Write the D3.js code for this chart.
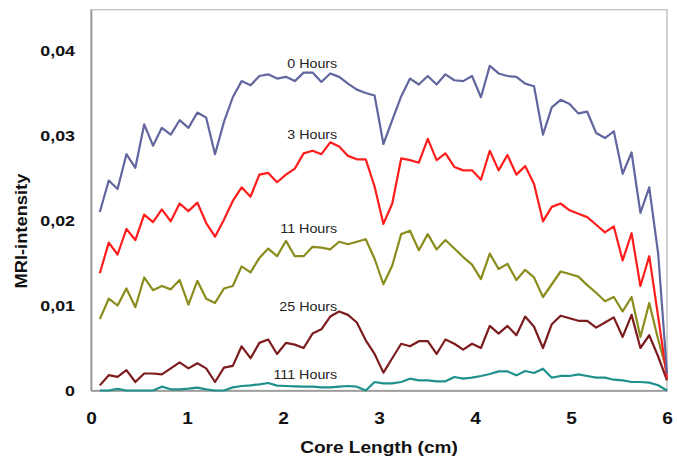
<!DOCTYPE html>
<html>
<head>
<meta charset="utf-8">
<script src="https://cdn.jsdelivr.net/npm/d3@7"></script>
<style>
  html, body { margin: 0; padding: 0; background: #ffffff; }
  svg { display: block; }
  text { font-family: "Liberation Sans", Arial, sans-serif; }
</style>
</head>
<body>
<svg id="chart" width="677" height="456"></svg>
<script>
// ---------------- data ----------------
const coreLength = [0.092,0.185,0.277,0.369,0.462,0.554,0.646,0.738,0.831,0.923,
  1.015,1.108,1.200,1.292,1.385,1.477,1.569,1.662,1.754,1.846,
  1.938,2.031,2.123,2.215,2.308,2.400,2.492,2.585,2.677,2.769,
  2.862,2.954,3.046,3.138,3.231,3.323,3.415,3.508,3.600,3.692,
  3.785,3.877,3.969,4.062,4.154,4.246,4.338,4.431,4.523,4.615,
  4.708,4.800,4.892,4.985,5.077,5.169,5.262,5.354,5.446,5.538,
  5.631,5.723,5.815,5.908,6.000];

const hours0 = [0.0210,0.0247,0.0237,0.0278,0.0262,0.0313,0.0288,0.0309,0.0301,0.0318,
  0.0309,0.0327,0.0321,0.0278,0.0316,0.0345,0.0364,0.0359,0.0370,0.0372,
  0.0367,0.0369,0.0364,0.0374,0.0374,0.0363,0.0373,0.0369,0.0361,0.0354,
  0.0350,0.0347,0.0290,0.0318,0.0346,0.0367,0.0360,0.0370,0.0360,0.0372,
  0.0365,0.0364,0.0370,0.0345,0.0382,0.0373,0.0370,0.0369,0.0361,0.0358,
  0.0301,0.0333,0.0342,0.0337,0.0326,0.0328,0.0303,0.0297,0.0305,0.0255,
  0.0280,0.0209,0.0239,0.0161,0.0020];

const hours3 = [0.0138,0.0174,0.0160,0.0190,0.0177,0.0207,0.0198,0.0213,0.0199,0.0220,
  0.0211,0.0221,0.0197,0.0181,0.0201,0.0223,0.0239,0.0228,0.0254,0.0256,
  0.0245,0.0254,0.0261,0.0279,0.0282,0.0278,0.0292,0.0287,0.0276,0.0272,
  0.0272,0.0240,0.0196,0.0220,0.0273,0.0271,0.0268,0.0296,0.0271,0.0279,
  0.0263,0.0259,0.0259,0.0248,0.0282,0.0259,0.0277,0.0254,0.0264,0.0243,
  0.0199,0.0216,0.0220,0.0212,0.0208,0.0204,0.0195,0.0186,0.0193,0.0153,
  0.0185,0.0123,0.0158,0.0087,0.0015];

const hours11 = [0.0084,0.0108,0.0100,0.0120,0.0098,0.0133,0.0118,0.0123,0.0119,0.0130,
  0.0101,0.0129,0.0108,0.0103,0.0120,0.0123,0.0146,0.0139,0.0156,0.0167,
  0.0158,0.0176,0.0158,0.0158,0.0169,0.0168,0.0166,0.0175,0.0172,0.0175,
  0.0178,0.0155,0.0125,0.0147,0.0184,0.0188,0.0165,0.0184,0.0166,0.0177,
  0.0167,0.0157,0.0148,0.0131,0.0161,0.0143,0.0149,0.0130,0.0142,0.0133,
  0.0110,0.0125,0.0140,0.0137,0.0134,0.0124,0.0115,0.0105,0.0110,0.0093,
  0.0110,0.0063,0.0103,0.0060,0.0022];

const hours25 = [0.0006,0.0018,0.0016,0.0024,0.0010,0.0020,0.0020,0.0019,0.0026,0.0033,
  0.0026,0.0032,0.0026,0.0010,0.0027,0.0029,0.0052,0.0038,0.0056,0.0060,
  0.0043,0.0056,0.0054,0.0050,0.0067,0.0072,0.0087,0.0093,0.0089,0.0080,
  0.0059,0.0043,0.0021,0.0038,0.0055,0.0052,0.0058,0.0058,0.0043,0.0060,
  0.0055,0.0048,0.0055,0.0050,0.0076,0.0067,0.0076,0.0065,0.0087,0.0075,
  0.0050,0.0078,0.0088,0.0085,0.0082,0.0082,0.0074,0.0080,0.0086,0.0063,
  0.0089,0.0050,0.0065,0.0040,0.0012];

const hours111 = [0.0000,0.0000,0.0002,0.0000,0.0000,0.0000,0.0000,0.00045,0.00014,0.00014,
  0.00022,0.00033,0.00014,0.0000,0.0000,0.00037,0.00053,0.00061,0.00073,0.00088,
  0.00057,0.00053,0.00049,0.00045,0.00045,0.00037,0.00037,0.00045,0.00053,0.00045,
  0.0000,0.0010,0.00084,0.00084,0.0010,0.00139,0.0012,0.0012,0.00108,0.00108,
  0.00159,0.00139,0.00151,0.00171,0.00194,0.00225,0.00225,0.00178,0.00229,0.00206,
  0.00257,0.00151,0.00171,0.00171,0.0019,0.00171,0.00151,0.00151,0.00127,0.0012,
  0.0010,0.0010,0.00092,0.00061,0.0000];

const seriesNames = ["0 Hours", "3 Hours", "11 Hours", "25 Hours", "111 Hours"];
const seriesValues = [hours0, hours3, hours11, hours25, hours111];

const xTicks = [0, 1, 2, 3, 4, 5, 6];
const yTicks = [0, 0.01, 0.02, 0.03, 0.04];
const yTickLabels = ["0", "0,01", "0,02", "0,03", "0,04"];

// ---------------- styles / layout ----------------
const colors = ["#62669f", "#ff1c1c", "#8a8c1c", "#7c1c1e", "#1f918c"];
// label anchor (x in cm, y in data units), right-aligned
const labelAnchors = [[2.565, 0.0384], [2.565, 0.0301], [2.565, 0.0190], [2.565, 0.0098], [2.565, 0.0019]];
const STRETCH = 1.19; // the reference text is horizontally widened

const svg = d3.select("#chart");
const plot = { left: 91, right: 667, top: 9.7, bottom: 390.5 };

const x = d3.scaleLinear().domain([0, 6]).range([plot.left, plot.right]);
const y = d3.scaleLinear().domain([0, 0.0448]).range([plot.bottom, plot.top]);

function stretchText(sel, factor) {
  sel.each(function () {
    const len = this.getComputedTextLength();
    this.setAttribute("textLength", len * factor);
    this.setAttribute("lengthAdjust", "spacingAndGlyphs");
  });
}

// frame
svg.append("rect")
  .attr("x", x(0)).attr("y", y(0.0448))
  .attr("width", x(6) - x(0)).attr("height", y(0) - y(0.0448))
  .attr("fill", "none").attr("stroke", "#c4c4c4").attr("stroke-width", 1.5);

// axes (no tick marks)
const xAxis = svg.append("g")
  .attr("transform", `translate(0,${y(0)})`)
  .call(d3.axisBottom(x).tickValues(xTicks).tickSize(0).tickPadding(0).tickFormat(d3.format("d")));
xAxis.select(".domain").attr("stroke", "#939393").attr("stroke-width", 1.6);
xAxis.selectAll(".tick text")
  .attr("y", 0).attr("dy", 0)
  .attr("transform", "translate(0,33)")
  .attr("fill", "#111")
  .style("font-size", "16px").style("font-weight", "bold")
  .style("font-family", '"Liberation Sans", Arial, sans-serif');

const yAxis = svg.append("g")
  .attr("transform", `translate(${x(0)},0)`)
  .call(d3.axisLeft(y).tickValues(yTicks).tickSize(0).tickPadding(16)
    .tickFormat((d, i) => yTickLabels[i]));
yAxis.select(".domain").attr("stroke", "#939393").attr("stroke-width", 1.6);
yAxis.selectAll(".tick text")
  .attr("fill", "#111")
  .attr("dy", "0.36em")
  .style("font-size", "15px").style("font-weight", "bold")
  .style("font-family", '"Liberation Sans", Arial, sans-serif');

stretchText(xAxis.selectAll(".tick text"), STRETCH);
stretchText(yAxis.selectAll(".tick text"), STRETCH);

// lines
const line = d3.line()
  .x((d, i) => x(coreLength[i]))
  .y(d => y(d));

svg.append("g").selectAll("path")
  .data(seriesValues.slice().reverse())
  .join("path")
  .attr("d", d => line(d))
  .attr("fill", "none")
  .attr("stroke", (d, i) => colors[seriesValues.length - 1 - i])
  .attr("stroke-width", 2.2)
  .attr("stroke-linejoin", "round");

// series labels
const labels = svg.append("g").selectAll("text")
  .data(seriesNames)
  .join("text")
  .attr("x", (d, i) => x(labelAnchors[i][0]))
  .attr("y", (d, i) => y(labelAnchors[i][1]))
  .attr("dy", "0.35em")
  .attr("text-anchor", "end")
  .attr("fill", "#222")
  .style("font-size", "12px")
  .text(d => d);
stretchText(labels, STRETCH);

// axis titles
const xTitle = svg.append("text")
  .attr("x", x(3)).attr("y", 447).attr("dy", "0.35em")
  .attr("text-anchor", "middle")
  .attr("fill", "#111")
  .style("font-size", "16px").style("font-weight", "bold")
  .text("Core Length (cm)");
stretchText(xTitle, STRETCH);

const yTitle = svg.append("text")
  .attr("transform", `translate(21,${(y(0) + y(0.0448)) / 2 + 31}) rotate(-90)`)
  .attr("dy", "0.35em")
  .attr("text-anchor", "middle")
  .attr("fill", "#111")
  .style("font-size", "16px").style("font-weight", "bold")
  .text("MRI-intensity");
yTitle.attr("textLength", 115).attr("lengthAdjust", "spacingAndGlyphs");
</script>
</body>
</html>
